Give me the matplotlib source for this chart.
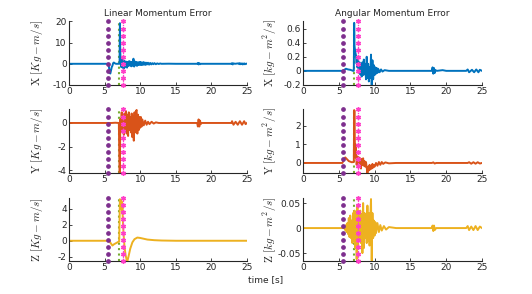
"""
Linear / angular momentum error - 3x2 panels, MATLAB-like look
"""

import matplotlib
matplotlib.use('Agg')
import matplotlib.pyplot as plt
import numpy as np

matplotlib.rcParams['mathtext.fontset'] = 'cm'
matplotlib.rcParams['font.family'] = ['DejaVu Sans']

# colores tipo MATLAB
BLUE = '#0072BD'
ORANGE = '#D95319'
YELLOW = '#EDB120'
PURPLE = '#7E2F8E'
GREEN = '#77AC30'
PINK = '#FF3FC8'
AXC = '#262626'

# instantes de los eventos (s)
t_events = [5.52, 7.07, 7.63]

# ---- datos ----
# linear X
t_lx = [0, 5.5, 5.6, 5.7, 5.8, 5.9, 6.0, 6.1, 6.2, 6.3, 6.45, 6.6, 7.1, 7.15, 7.2, 7.25, 7.3,
        7.35, 7.45, 7.55, 7.65, 7.75, 7.85, 7.95, 8.05, 8.15, 8.25, 8.35, 8.45, 8.55, 8.65,
        8.75, 8.85, 8.95, 9.05, 9.15, 9.25, 9.35, 9.45, 9.55, 9.65, 9.75, 9.85, 9.95, 10.05,
        10.15, 10.25, 10.35, 10.45, 10.55, 10.65, 10.75, 10.85, 10.95, 11.1, 11.25, 11.4,
        11.55, 11.7, 11.85, 12.0, 12.2, 12.4, 12.6, 12.8, 13.0, 14, 15, 18.0, 18.1, 18.2,
        18.3, 18.4, 18.5, 20, 22.8, 22.9, 23.0, 23.1, 23.3, 23.8, 23.9, 24.0, 24.1, 24.3,
        24.4, 24.6, 24.7, 24.9, 25]
v_lx = [0, 0, -1.2, -3.8, -4.6, -3.2, -1.6, -0.9, 0.3, 0.6, 0.2, 0, 0, 19.2, 6.0, 1.5, 2.5,
        -1.6, 2.0, -1.9, 1.6, -2.1, 1.2, -1.4, 1.0, -1.8, 0.9, -1.0, 1.3, -0.8, 1.0,
        -1.2, 0.8, -0.9, 2.4, -1.3, 1.1, -0.7, 0.9, -1.0, 0.7, -0.6, 0.8, -0.5, 0.9,
        -0.6, 0.6, -0.5, 0.8, -0.4, 0.6, -0.5, 0.5, -0.3, 0.5, -0.4, 0.4,
        -0.3, 0.3, -0.2, 0.3, -0.2, 0.2, -0.1, 0.15, 0, 0.05, 0, 0, 0.4, -0.3,
        0.3, -0.2, 0, 0, 0, 0.3, -0.3, 0.2, 0, 0.2, -0.2, 0.3, -0.2, 0.2,
        -0.3, 0.2, -0.2, 0.1, 0]

# linear Y
t_ly = [0, 6.0, 6.5, 7.0, 7.1, 7.15, 7.2, 7.3, 7.4, 7.5, 7.6, 7.7, 7.8, 7.9, 8.0, 8.1, 8.2,
        8.3, 8.4, 8.5, 8.6, 8.7, 8.8, 8.9, 9.0, 9.1, 9.2, 9.3, 9.4, 9.5, 9.6, 9.7, 9.8, 9.9,
        10.0, 10.1, 10.2, 10.3, 10.5, 10.7, 10.9, 11.1, 11.3, 11.6, 11.9, 12.2, 12.6, 18.0,
        18.1, 18.2, 18.3, 18.4, 18.5, 18.6, 20, 22.8, 22.9, 23.1, 23.4, 23.7, 24.0, 24.3,
        24.6, 24.8, 25]
v_ly = [0, 0, 0.02, 0, -4.3, -4.3, 0.3, -0.5, 0.9, -0.8, 0.6, -1.0, 0.8, -0.7, 1.0, -0.9, 0.7,
        -1.1, 0.9, -0.6, 0.5, -0.8, 0.8, -1.2, 0.6, -1.5, 0.9, -0.8, 1.0, 1.1, -0.9, 0.7, -0.6, 0.5,
        -0.4, 0.5, -0.3, 0.3, -0.2, 0.2, -0.15, 0.1, -0.1, 0.1, -0.05, 0.05, 0, 0,
        -0.3, 0.3, -0.3, 0.2, -0.1, 0, 0, 0, 0.15, -0.15, 0.1, -0.15, 0.15, -0.15,
        0.15, -0.1, 0]

# linear Z
t_lz = [0, 5.5, 5.7, 5.9, 6.1, 6.3, 6.6, 6.9, 7.05, 7.15, 7.25, 7.3, 7.35, 7.4, 7.45, 7.5,
        7.55, 7.65, 7.8, 7.95, 8.1, 8.2, 8.35, 8.6, 8.9, 9.2, 9.6, 10.0, 10.5, 11.0, 12.0,
        13.0, 15, 25]
v_lz = [0, 0, -0.1, -0.35, -0.6, -0.45, -0.3, -0.15, -0.1, 5.2, 4.8, 5.0, 4.0, 4.9, 3.5, 4.5,
        2.8, 1.0, -0.8, -1.8, -2.4, -2.55, -2.0, -1.0, -0.2, 0.2, 0.4, 0.35, 0.25, 0.15, 0.07,
        0.03, 0, 0]

# angular X
t_ax = [0, 5.5, 5.7, 6.0, 6.3, 6.6, 7.0, 7.1, 7.15, 7.2, 7.3, 7.4, 7.5, 7.55, 7.6, 7.7, 7.8,
        7.9, 8.0, 8.1, 8.2, 8.3, 8.4, 8.5, 8.6, 8.7, 8.8, 8.9, 9.0, 9.1, 9.2, 9.3, 9.4, 9.5,
        9.6, 9.7, 9.8, 9.9, 10.0, 10.1, 10.2, 10.3, 10.4, 10.5, 10.7, 10.9, 11.1, 11.4, 12,
        18.0, 18.1, 18.2, 18.3, 18.4, 18.5, 18.7, 19.5, 20, 22.8, 23.0, 23.2, 23.6, 23.9,
        24.2, 24.5, 24.7, 25]
v_ax = [0, 0, 0.01, 0.03, 0.02, 0.015, 0.0, 0.0, 0.68, 0.35, 0.27, 0.22, 0.1, 0.2, 0.05, 0.15, -0.03,
        0.12, -0.05, 0.08, -0.08, 0.12, -0.06, 0.16, -0.05, 0.1, -0.12, 0.2, -0.1, 0.1, -0.15, 0.05, -0.1, 0.23,
        -0.2, 0.15, -0.12, 0.08, -0.06, 0.05, -0.04, 0.04, -0.03, 0.03, -0.02, 0.02, -0.01, 0.01, 0,
        0, 0.05, -0.04, 0.04, -0.03, 0.01, 0, 0.01, 0, 0, 0.02, -0.02, 0.015, -0.02,
        0.02, -0.02, 0.015, 0]

# angular Y
t_ay = [0, 5.5, 5.7, 5.9, 6.1, 6.4, 6.8, 7.1, 7.15, 7.2, 7.25, 7.3, 7.35, 7.4, 7.5, 7.6, 7.7,
        7.8, 7.9, 8.0, 8.1, 8.2, 8.3, 8.4, 8.5, 8.6, 8.7, 8.8, 8.9, 9.0, 9.1, 9.2, 9.3, 9.4,
        9.5, 9.6, 9.7, 9.8, 9.9, 10.0, 10.2, 10.4, 10.6, 10.8, 11.0, 11.2, 11.5, 12.0, 13,
        18.0, 18.2, 18.4, 18.6, 20, 23.0, 23.2, 23.5, 23.8, 24.1, 24.4, 24.7, 25]
v_ay = [0, 0, 0.15, 0.3, 0.22, 0.1, 0.04, 0.05, 2.85, 2.8, 0.9, 0.3, 1.0, 0.6, -0.1, 0.35, -0.2,
        0.3, 0.0, 0.25, -0.3, 0.2, -0.1, 0.25, -0.15, 0.1, -0.2, 0.05, -0.25, -0.55, -0.2, -0.4, -0.1, -0.35,
        -0.15, -0.3, -0.05, -0.25, -0.1, -0.2, 0.0, -0.15, 0.05, -0.1, 0.05, -0.05, 0.03, -0.02, 0,
        0, 0.03, -0.03, 0, 0, 0, 0.04, -0.04, 0.04, -0.04, 0.04, -0.03, 0]

# angular Z
t_az = [0, 5.5, 5.7, 5.9, 6.0, 6.1, 6.2, 6.3, 6.4, 6.5, 6.6, 6.7, 6.8, 6.9, 7.0, 7.1, 7.2,
        7.3, 7.4, 7.5, 7.6, 7.7, 7.8, 7.9, 8.0, 8.1, 8.2, 8.3, 8.4, 8.5, 8.6, 8.7, 8.8, 8.9,
        9.0, 9.1, 9.2, 9.3, 9.4, 9.5, 9.6, 9.7, 9.8, 9.9, 10.0, 10.1, 10.2, 10.4, 10.6, 10.8,
        11.0, 11.3, 11.6, 12.0, 13, 18.0, 18.1, 18.2, 18.3, 18.4, 18.6, 20, 22.8, 23.0, 23.2,
        23.5, 23.8, 24.1, 24.4, 24.7, 25]
v_az = [0, 0, 0.002, -0.004, 0.006, -0.008, 0.01, -0.012, 0.02, -0.018, 0.025, -0.02, 0.015, -0.03, 0.03, -0.025, 0.035,
        -0.04, 0.03, -0.062, 0.045, -0.035, 0.03, -0.025, 0.035, -0.03, 0.028, -0.05, 0.05, -0.04, 0.03, -0.02, 0.025, -0.03,
        0.045, -0.025, 0.03, -0.035, 0.02, 0.058, -0.065, 0.03, -0.02, 0.015, -0.015, 0.012, -0.01, 0.01, -0.008, 0.006,
        -0.005, 0.004, -0.003, 0.002, 0, 0, 0.005, -0.006, 0.005, -0.004, 0, 0, 0, 0.004, -0.004,
        0.003, -0.004, 0.004, -0.004, 0.003, 0]

x_ticks = [0, 5, 10, 15, 20, 25]

# (t, v, color, ylim, yticks, ylabel)
panels_left = [
    (t_lx, v_lx, BLUE, (-10, 20), [-10, 0, 10, 20], r'$\mathrm{X}\ [Kg-m/s]$'),
    (t_ly, v_ly, ORANGE, (-4.23, 1.14), [-4, -2, 0], r'$\mathrm{Y}\ [Kg-m/s]$'),
    (t_lz, v_lz, YELLOW, (-2.54, 5.4), [-2, 0, 2, 4], r'$\mathrm{Z}\ [Kg-m/s]$'),
]
panels_right = [
    (t_ax, v_ax, BLUE, (-0.2, 0.7), [-0.2, 0, 0.2, 0.4, 0.6], r'$\mathrm{X}\ \left[kg-m^2/s\right]$'),
    (t_ay, v_ay, ORANGE, (-0.54, 2.88), [0, 1, 2], r'$\mathrm{Y}\ \left[kg-m^2/s\right]$'),
    (t_az, v_az, YELLOW, (-0.066, 0.061), [-0.05, 0, 0.05], r'$\mathrm{Z}\ \left[kg-m^2/s\right]$'),
]

fig = plt.figure(figsize=(5.32, 2.94), dpi=100)

rows_bottom = [0.711, 0.4116, 0.112]
row_h = 0.216
col_left = [0.1297, 0.5695]
col_w = [0.3346, 0.3365]


def fmt_tick(v):
    if float(v).is_integer():
        return '%d' % v
    return ('%g' % v)


def draw_events(ax):
    tr = ax.get_xaxis_transform()
    ys = np.linspace(0, 1, 10)
    # purpura: puntos gruesos
    ax.plot([t_events[0]] * len(ys), ys, transform=tr, linestyle='none', marker='o',
            ms=2.4, color=PURPLE, mec=PURPLE, zorder=3, clip_on=False)
    # verde: linea punteada
    ax.plot([t_events[1], t_events[1]], [0, 1], transform=tr, color=GREEN, lw=1.5,
            linestyle=(0, (1, 1.6)), zorder=1.5)
    # rosa: punteada con asteriscos
    ax.plot([t_events[2], t_events[2]], [0, 1], transform=tr, color=PINK, lw=0.9,
            linestyle=(0, (1, 1.5)), zorder=3)
    ax.plot([t_events[2]] * len(ys), ys, transform=tr, linestyle='none', marker=(6, 2, 0),
            ms=3.4, mew=1.0, color=PINK, zorder=3, clip_on=False)


for col, panels in enumerate([panels_left, panels_right]):
    for row, (t, v, c, yl, yt, lab) in enumerate(panels):
        ax = fig.add_axes([col_left[col], rows_bottom[row], col_w[col], row_h])
        ax.plot(t, v, color=c, lw=1.4, zorder=2)
        draw_events(ax)
        ax.set_xlim(0, 25)
        ax.set_ylim(*yl)
        ax.set_xticks(x_ticks)
        ax.set_xticklabels([str(x) for x in x_ticks])
        ax.set_yticks(yt)
        ax.set_yticklabels([fmt_tick(y) for y in yt])
        for s in ['top', 'right']:
            ax.spines[s].set_visible(False)
        for s in ['left', 'bottom']:
            ax.spines[s].set_color(AXC)
            ax.spines[s].set_linewidth(0.8)
        ax.tick_params(direction='in', length=2.5, width=0.6, colors=AXC,
                       labelsize=6.5, pad=1.5)
        ax.set_ylabel(lab, fontsize=8, color=AXC)
        ax.yaxis.set_label_coords(-0.135, 0.5)
        ax.set_facecolor('none')
        if row == 0:
            ax.set_title('Linear Momentum Error' if col == 0 else 'Angular Momentum Error',
                         fontsize=6.5, color=AXC, pad=4)

fig.text(0.5, 0.05, 'time [s]', ha='center', va='center', fontsize=6.5, color=AXC)

fig.savefig('out.png', dpi=100)
